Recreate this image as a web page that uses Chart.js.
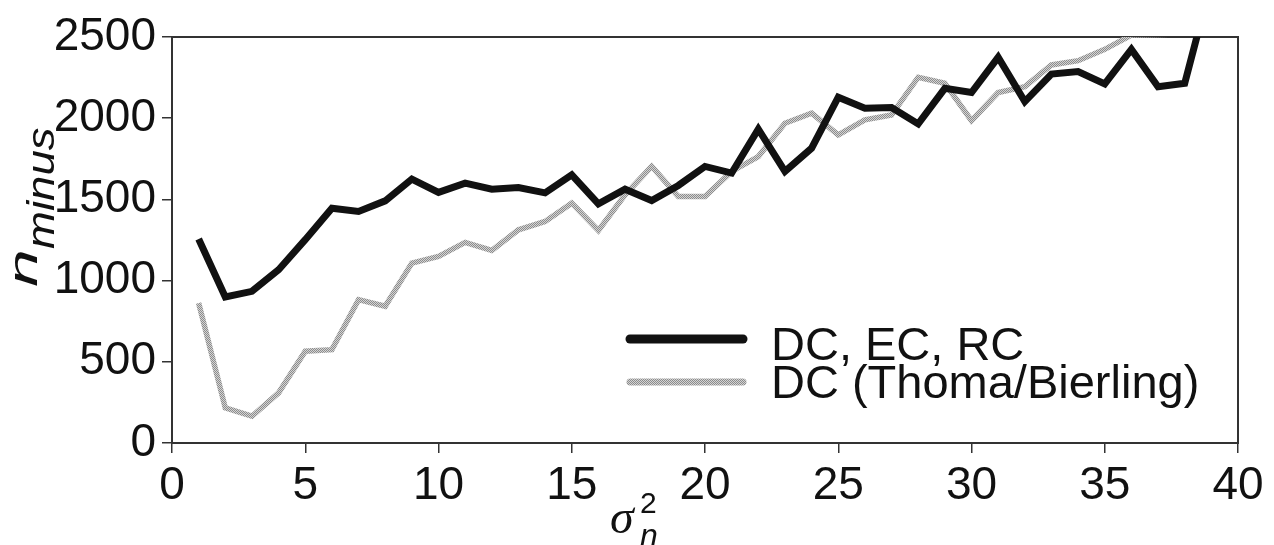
<!DOCTYPE html>
<html>
<head>
<meta charset="utf-8">
<script src="https://cdn.jsdelivr.net/npm/chart.js@4.4.1/dist/chart.umd.min.js"></script>
<style>
  html, body { margin: 0; padding: 0; background: #fff; }
  .chart-wrap { width: 1274px; height: 545px; position: relative; }
</style>
</head>
<body>
<div class="chart-wrap"><canvas class="js-chart"></canvas></div>
<script>
const sigma = [1, 2, 3, 4, 5, 6, 7, 8, 9, 10, 11, 12, 13, 14, 15, 16, 17, 18, 19, 20,
  21, 22, 23, 24, 25, 26, 27, 28, 29, 30, 31, 32, 33, 34, 35, 36, 37, 38, 39];
const dcEcRc = [1256, 899, 934, 1067, 1252, 1446, 1426, 1491, 1625, 1543, 1600, 1563, 1573, 1540, 1651, 1473, 1563, 1493, 1586, 1703,
  1662, 1932, 1672, 1815, 2129, 2061, 2066, 1965, 2184, 2158, 2375, 2102, 2272, 2287, 2211, 2424, 2194, 2215, 2840];
const dcThoma = [862, 216, 165, 309, 565, 575, 883, 842, 1108, 1149, 1235, 1186, 1313, 1364, 1477, 1309, 1528, 1703, 1518, 1518,
  1672, 1764, 1969, 2031, 1897, 1990, 2020, 2252, 2215, 1985, 2158, 2194, 2328, 2354, 2424, 2512, 2515, 2520, 2530];
const seriesNames = ["DC, EC, RC", "DC (Thoma/Bierling)"];
const xTicks = [0, 5, 10, 15, 20, 25, 30, 35, 40];
const yTicks = [0, 500, 1000, 1500, 2000, 2500];

const FONT = '"Liberation Sans", Arial, Helvetica, sans-serif';

// halftone-looking grey for the second line
const makePattern = function () {
  const c = document.createElement("canvas");
  c.width = 2;
  c.height = 2;
  const g = c.getContext("2d");
  g.fillStyle = "#d4d4d4";
  g.fillRect(0, 0, 2, 2);
  g.fillStyle = "#8c8c8c";
  g.fillRect(0, 0, 1, 1);
  g.fillRect(1, 1, 1, 1);
  return g.createPattern(c, "repeat");
};

const decor = {
  id: "decor",
  beforeDatasetsDraw(chart) {
    const { ctx, chartArea: a } = chart;
    ctx.save();
    ctx.strokeStyle = "#333";
    ctx.lineWidth = 2;
    ctx.strokeRect(a.left, a.top, a.right - a.left, a.bottom - a.top);
    ctx.restore();
  },
  afterDraw(chart) {
    const { ctx } = chart;
    const grey = chart.data.datasets[1].borderColor;
    ctx.save();

    // legend inside the plot
    ctx.lineCap = "round";
    ctx.strokeStyle = "#111";
    ctx.lineWidth = 9;
    ctx.beginPath();
    ctx.moveTo(630, 339);
    ctx.lineTo(743, 339);
    ctx.stroke();
    ctx.strokeStyle = grey;
    ctx.lineWidth = 7;
    ctx.beginPath();
    ctx.moveTo(630, 382);
    ctx.lineTo(743, 382);
    ctx.stroke();

    ctx.fillStyle = "#111";
    ctx.font = "47px " + FONT;
    ctx.textAlign = "left";
    ctx.textBaseline = "alphabetic";
    ctx.fillText(seriesNames[0], 771, 360);
    ctx.fillText(seriesNames[1], 771, 398);

    // y title: n_minus
    ctx.save();
    ctx.translate(37, 287);
    ctx.rotate(-Math.PI / 2);
    ctx.scale(1.7, 1);
    ctx.font = "italic 40px " + FONT;
    ctx.fillText("n", 0, 0);
    ctx.restore();
    ctx.save();
    ctx.translate(54, 249);
    ctx.rotate(-Math.PI / 2);
    ctx.scale(1.2, 1);
    ctx.font = "italic 38px " + FONT;
    ctx.fillText("minus", 0, 0);
    ctx.restore();

    // x title: sigma_n^2
    ctx.font = 'italic 48px "Liberation Serif", "Times New Roman", serif';
    ctx.fillText("\u03c3", 610, 533);
    ctx.font = "30px " + FONT;
    ctx.fillText("2", 640, 513);
    ctx.font = "italic 32px " + FONT;
    ctx.fillText("n", 640, 546);

    ctx.restore();
  },
};

const drawChart = function () {
  const el = document.querySelector(".js-chart");

  new Chart(el, {
    type: "line",
    data: {
      datasets: [
        {
          label: seriesNames[0],
          data: sigma.map((x, i) => ({ x: x, y: dcEcRc[i] })),
          borderColor: "#111",
          borderWidth: 7,
          pointRadius: 0,
          tension: 0,
        },
        {
          label: seriesNames[1],
          data: sigma.map((x, i) => ({ x: x, y: dcThoma[i] })),
          borderColor: makePattern(),
          borderWidth: 5.5,
          pointRadius: 0,
          tension: 0,
        },
      ],
    },
    options: {
      responsive: true,
      maintainAspectRatio: false,
      animation: false,
      layout: { padding: { top: 37, right: 36, left: 0, bottom: 0 } },
      scales: {
        x: {
          type: "linear",
          min: 0,
          max: 40,
          afterBuildTicks: (s) => { s.ticks = xTicks.map((v) => ({ value: v })); },
          afterFit: (s) => { s.height = 102; },
          border: { display: false },
          grid: { drawOnChartArea: false, drawTicks: true, tickLength: 10, color: "#333", lineWidth: 1.5 },
          ticks: { color: "#111", padding: 6, maxRotation: 0, font: { family: FONT, size: 46 }, callback: (v) => String(v) },
        },
        y: {
          min: 0,
          max: 2500,
          afterBuildTicks: (s) => { s.ticks = yTicks.map((v) => ({ value: v })); },
          afterFit: (s) => { s.width = 172; },
          border: { display: false },
          grid: { drawOnChartArea: false, drawTicks: true, tickLength: 10, color: "#333", lineWidth: 1.5 },
          ticks: { color: "#111", padding: 6, font: { family: FONT, size: 46 }, callback: (v) => String(v) },
        },
      },
      plugins: {
        legend: { display: false },
        tooltip: { enabled: false },
      },
    },
    plugins: [decor],
  });
};

document.addEventListener("DOMContentLoaded", drawChart);
</script>
</body>
</html>
